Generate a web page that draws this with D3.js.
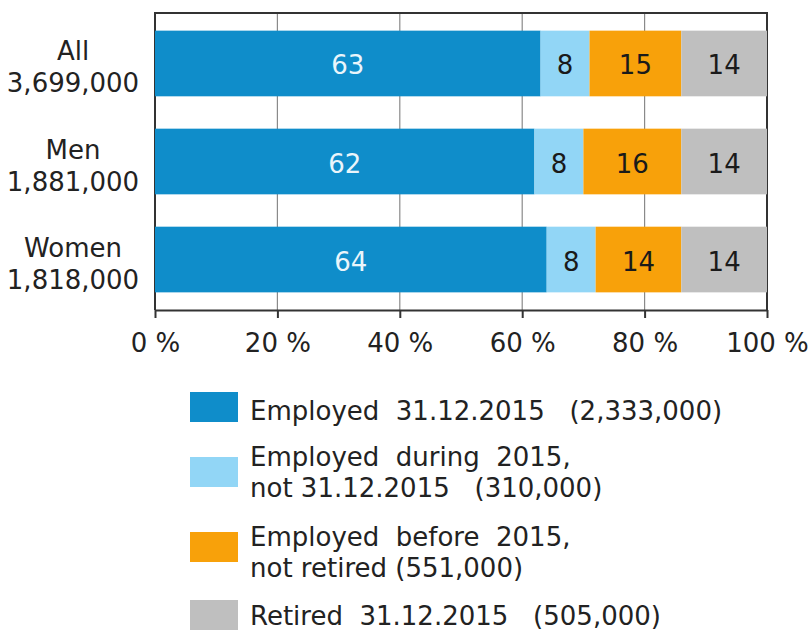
<!DOCTYPE html>
<html>
<head>
<meta charset="utf-8">
<script src="https://cdn.jsdelivr.net/npm/d3@7"></script>
<style>
  body { margin: 0; background: #fff; }
  svg { display: block; font-family: "DejaVu Sans", Verdana, sans-serif; }
</style>
</head>
<body>
<div id="chart"></div>
<script>
// Data.
const groups = ["All", "Men", "Women"];
const groupTotals = ["3,699,000", "1,881,000", "1,818,000"];
const seriesKeys = ["employedEnd", "employedDuring", "employedBefore", "retired"];
const employedEnd = [63, 62, 64];
const employedDuring = [8, 8, 8];
const employedBefore = [15, 16, 14];
const retired = [14, 14, 14];
const xTicks = [0, 20, 40, 60, 80, 100];
const legendLabels = [
  ["Employed  31.12.2015   (2,333,000)"],
  ["Employed  during  2015,", "not 31.12.2015   (310,000)"],
  ["Employed  before  2015,", "not retired (551,000)"],
  ["Retired  31.12.2015   (505,000)"]
];

const colors = ["#0f8dca", "#92d6f6", "#f8a10a", "#bfbfbf"];
const labelColors = ["#eaf5fb", "#1a1a1a", "#1a1a1a", "#1a1a1a"];

const width = 809, height = 630;
const margin = { top: 13, left: 155, right: 42, bottom: 320 };
const plotRight = width - margin.right;
const plotBottom = height - margin.bottom;
const fontSize = 26;

const svg = d3.select("#chart").append("svg")
  .attr("width", width)
  .attr("height", height);

// Build the table for stacking.
const table = groups.map((g, i) => ({
  group: g,
  employedEnd: employedEnd[i],
  employedDuring: employedDuring[i],
  employedBefore: employedBefore[i],
  retired: retired[i]
}));
const stacked = d3.stack().keys(seriesKeys)(table);

const x = d3.scaleLinear().domain([0, 100]).range([margin.left, plotRight]);
const y = d3.scaleBand().domain(groups)
  .range([margin.top, plotBottom])
  .paddingInner(0.33)
  .paddingOuter(0.18);

// Grid lines behind the bars.
svg.append("g")
  .selectAll("line")
  .data(xTicks.slice(1, -1))
  .join("line")
  .attr("x1", d => x(d)).attr("x2", d => x(d))
  .attr("y1", margin.top).attr("y2", plotBottom)
  .attr("stroke", "#8a8a8a")
  .attr("stroke-width", 1.2);

// Frame: top, left and right borders.
svg.append("path")
  .attr("d", `M${x(0)},${plotBottom}V${margin.top}H${x(100)}V${plotBottom}`)
  .attr("fill", "none")
  .attr("stroke", "#333")
  .attr("stroke-width", 2);

// Stacked bars.
const layers = svg.append("g")
  .selectAll("g")
  .data(stacked)
  .join("g")
  .attr("fill", (d, i) => colors[i]);

layers.selectAll("rect")
  .data(d => d)
  .join("rect")
  .attr("x", d => x(d[0]))
  .attr("y", d => y(d.data.group))
  .attr("width", d => x(d[1]) - x(d[0]))
  .attr("height", y.bandwidth());

// Value labels inside segments.
stacked.forEach((layer, li) => {
  svg.append("g")
    .selectAll("text")
    .data(layer)
    .join("text")
    .attr("x", d => (x(d[0]) + x(d[1])) / 2)
    .attr("y", d => y(d.data.group) + y.bandwidth() / 2 + 2)
    .attr("text-anchor", "middle")
    .attr("dominant-baseline", "central")
    .attr("font-size", fontSize)
    .attr("fill", labelColors[li])
    .text(d => d[1] - d[0]);
});

// Bottom axis.
const xAxis = d3.axisBottom(x)
  .tickValues(xTicks)
  .tickSize(8)
  .tickSizeOuter(0)
  .tickFormat(d => `${d} %`);
const axisG = svg.append("g")
  .attr("transform", `translate(0,${plotBottom})`)
  .call(xAxis);
axisG.select(".domain").attr("stroke", "#333").attr("stroke-width", 2);
axisG.selectAll(".tick line").attr("stroke", "#333").attr("stroke-width", 2);
axisG.selectAll(".tick text")
  .attr("y", 24)
  .attr("dy", "0.71em")
  .attr("font-size", fontSize)
  .attr("font-family", "DejaVu Sans, Verdana, sans-serif")
  .attr("fill", "#222");

// Category labels on the left, two lines each.
const cat = svg.append("g")
  .selectAll("text")
  .data(groups)
  .join("text")
  .attr("text-anchor", "middle")
  .attr("font-size", fontSize)
  .attr("fill", "#222");
cat.append("tspan")
  .attr("x", 73)
  .attr("y", d => y(d) + y.bandwidth() / 2 - 3)
  .text(d => d);
cat.append("tspan")
  .attr("x", 73)
  .attr("y", d => y(d) + y.bandwidth() / 2 + 29)
  .text((d, i) => groupTotals[i]);

// Legend.
const legendX = 190;
const swatchTops = [392, 457, 532, 600];
const textTops = [420, 466, 546, 625];
const lineGap = 31;
const legend = svg.append("g")
  .selectAll("g")
  .data(legendLabels)
  .join("g");
legend.append("rect")
  .attr("x", legendX)
  .attr("y", (d, i) => swatchTops[i])
  .attr("width", 48)
  .attr("height", 30)
  .attr("fill", (d, i) => colors[i]);
legend.append("text")
  .attr("font-size", fontSize)
  .attr("fill", "#222")
  .style("white-space", "pre")
  .each(function(lines, i) {
    d3.select(this).selectAll("tspan")
      .data(lines)
      .join("tspan")
      .attr("x", legendX + 60)
      .attr("y", (l, j) => textTops[i] + j * lineGap)
      .text(l => l);
  });
</script>
</body>
</html>
